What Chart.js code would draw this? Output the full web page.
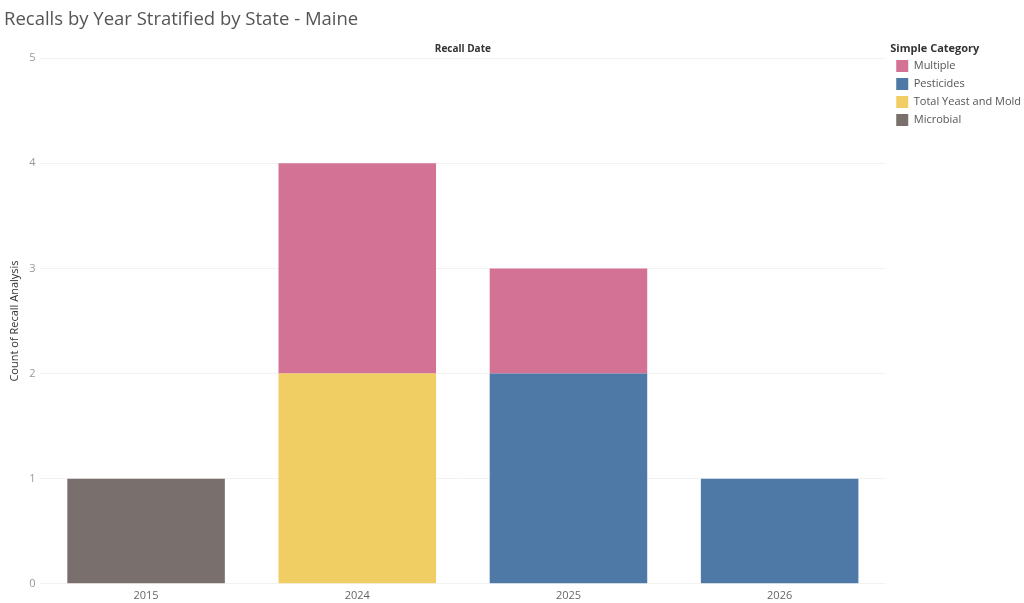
<!DOCTYPE html>
<html>
<head>
<meta charset="utf-8">
<script src="https://cdn.jsdelivr.net/npm/chart.js@4.4.1/dist/chart.umd.min.js"></script>
<style>
	body { margin: 0; background: #fff; }
	#wrap { width: 1024px; height: 603px; position: relative; }
</style>
</head>
<body>
<div id="wrap"><canvas id="myChart"></canvas></div>
<script>
const years = ['2015', '2024', '2025', '2026'];
const microbial = [1, 0, 0, 0];
const yeastMold = [0, 2, 0, 0];
const pesticides = [0, 0, 2, 1];
const multiple = [0, 2, 1, 0];
const yTicks = [0, 1, 2, 3, 4, 5];

Chart.defaults.font.family = "'Open Sans', 'Noto Sans', sans-serif";
Chart.defaults.font.size = 11;

// push the legend a little to the right of the plot, like the original
const shiftLegend = {
	id: 'shiftLegend',
	afterLayout(chart) {
		const lg = chart.legend;
		if (!lg) return;
		lg.left += 5;
		lg.right += 5;
	}
};

const ctx = document.getElementById('myChart').getContext('2d');

function bar(label, data, color) {
	return {
		label: label,
		data: data,
		backgroundColor: color,
		borderWidth: 0,
		categoryPercentage: 1.0,
		barPercentage: 0.746,
		xAxisID: 'x',
	};
}

const myChart = new Chart(ctx, {
	type: 'bar',
	data: {
		labels: years,
		datasets: [
			bar('Microbial', microbial, '#79706E'),
			bar('Total Yeast and Mold', yeastMold, '#F1CE63'),
			bar('Pesticides', pesticides, '#4E79A7'),
			bar('Multiple', multiple, '#D37295'),
		],
	},
	plugins: [shiftLegend],
	options: {
		responsive: true,
		maintainAspectRatio: false,
		animation: false,
		layout: {
			padding: { left: 4, right: -2, top: 6, bottom: -4 },
		},
		plugins: {
			title: {
				display: true,
				text: 'Recalls by Year Stratified by State - Maine',
				align: 'start',
				color: '#555',
				font: { size: 18.5, weight: 'normal' },
				padding: { top: 3, bottom: 12 },
			},
			legend: {
				position: 'right',
				align: 'start',
				reverse: true,
				title: {
					display: true,
					text: 'Simple Category',
					position: 'start',
					color: '#333',
					font: { size: 11, weight: 'bold', lineHeight: 1 },
					padding: { top: 37, bottom: 0 },
				},
				labels: {
					boxWidth: 12,
					boxHeight: 12,
					padding: 6,
					color: '#555',
					font: { size: 11 },
				},
			},
			tooltip: { enabled: false },
		},
		scales: {
			x: {
				stacked: true,
				grid: { display: false, drawTicks: false },
				border: { display: false },
				ticks: { color: '#666', font: { size: 11 }, padding: 5 },
			},
			x2: {
				position: 'top',
				grid: { display: false, drawTicks: false },
				border: { display: false },
				ticks: { display: false },
				title: {
					display: true,
					text: 'Recall Date',
					color: '#333',
					font: { size: 10, weight: 'bold' },
					padding: { top: 0, bottom: 3 },
				},
			},
			y: {
				stacked: true,
				min: 0,
				max: 5,
				afterBuildTicks: axis => { axis.ticks = yTicks.map(v => ({ value: v })) },
				grid: { color: '#f2f2f2', drawTicks: false },
				border: { display: false },
				ticks: { color: '#999', font: { size: 11 }, padding: 5 },
				title: {
					display: true,
					text: 'Count of Recall Analysis',
					color: '#333',
					font: { size: 11 },
					padding: { top: 4, bottom: 3 },
				},
			},
		},
	},
});
</script>
</body>
</html>
